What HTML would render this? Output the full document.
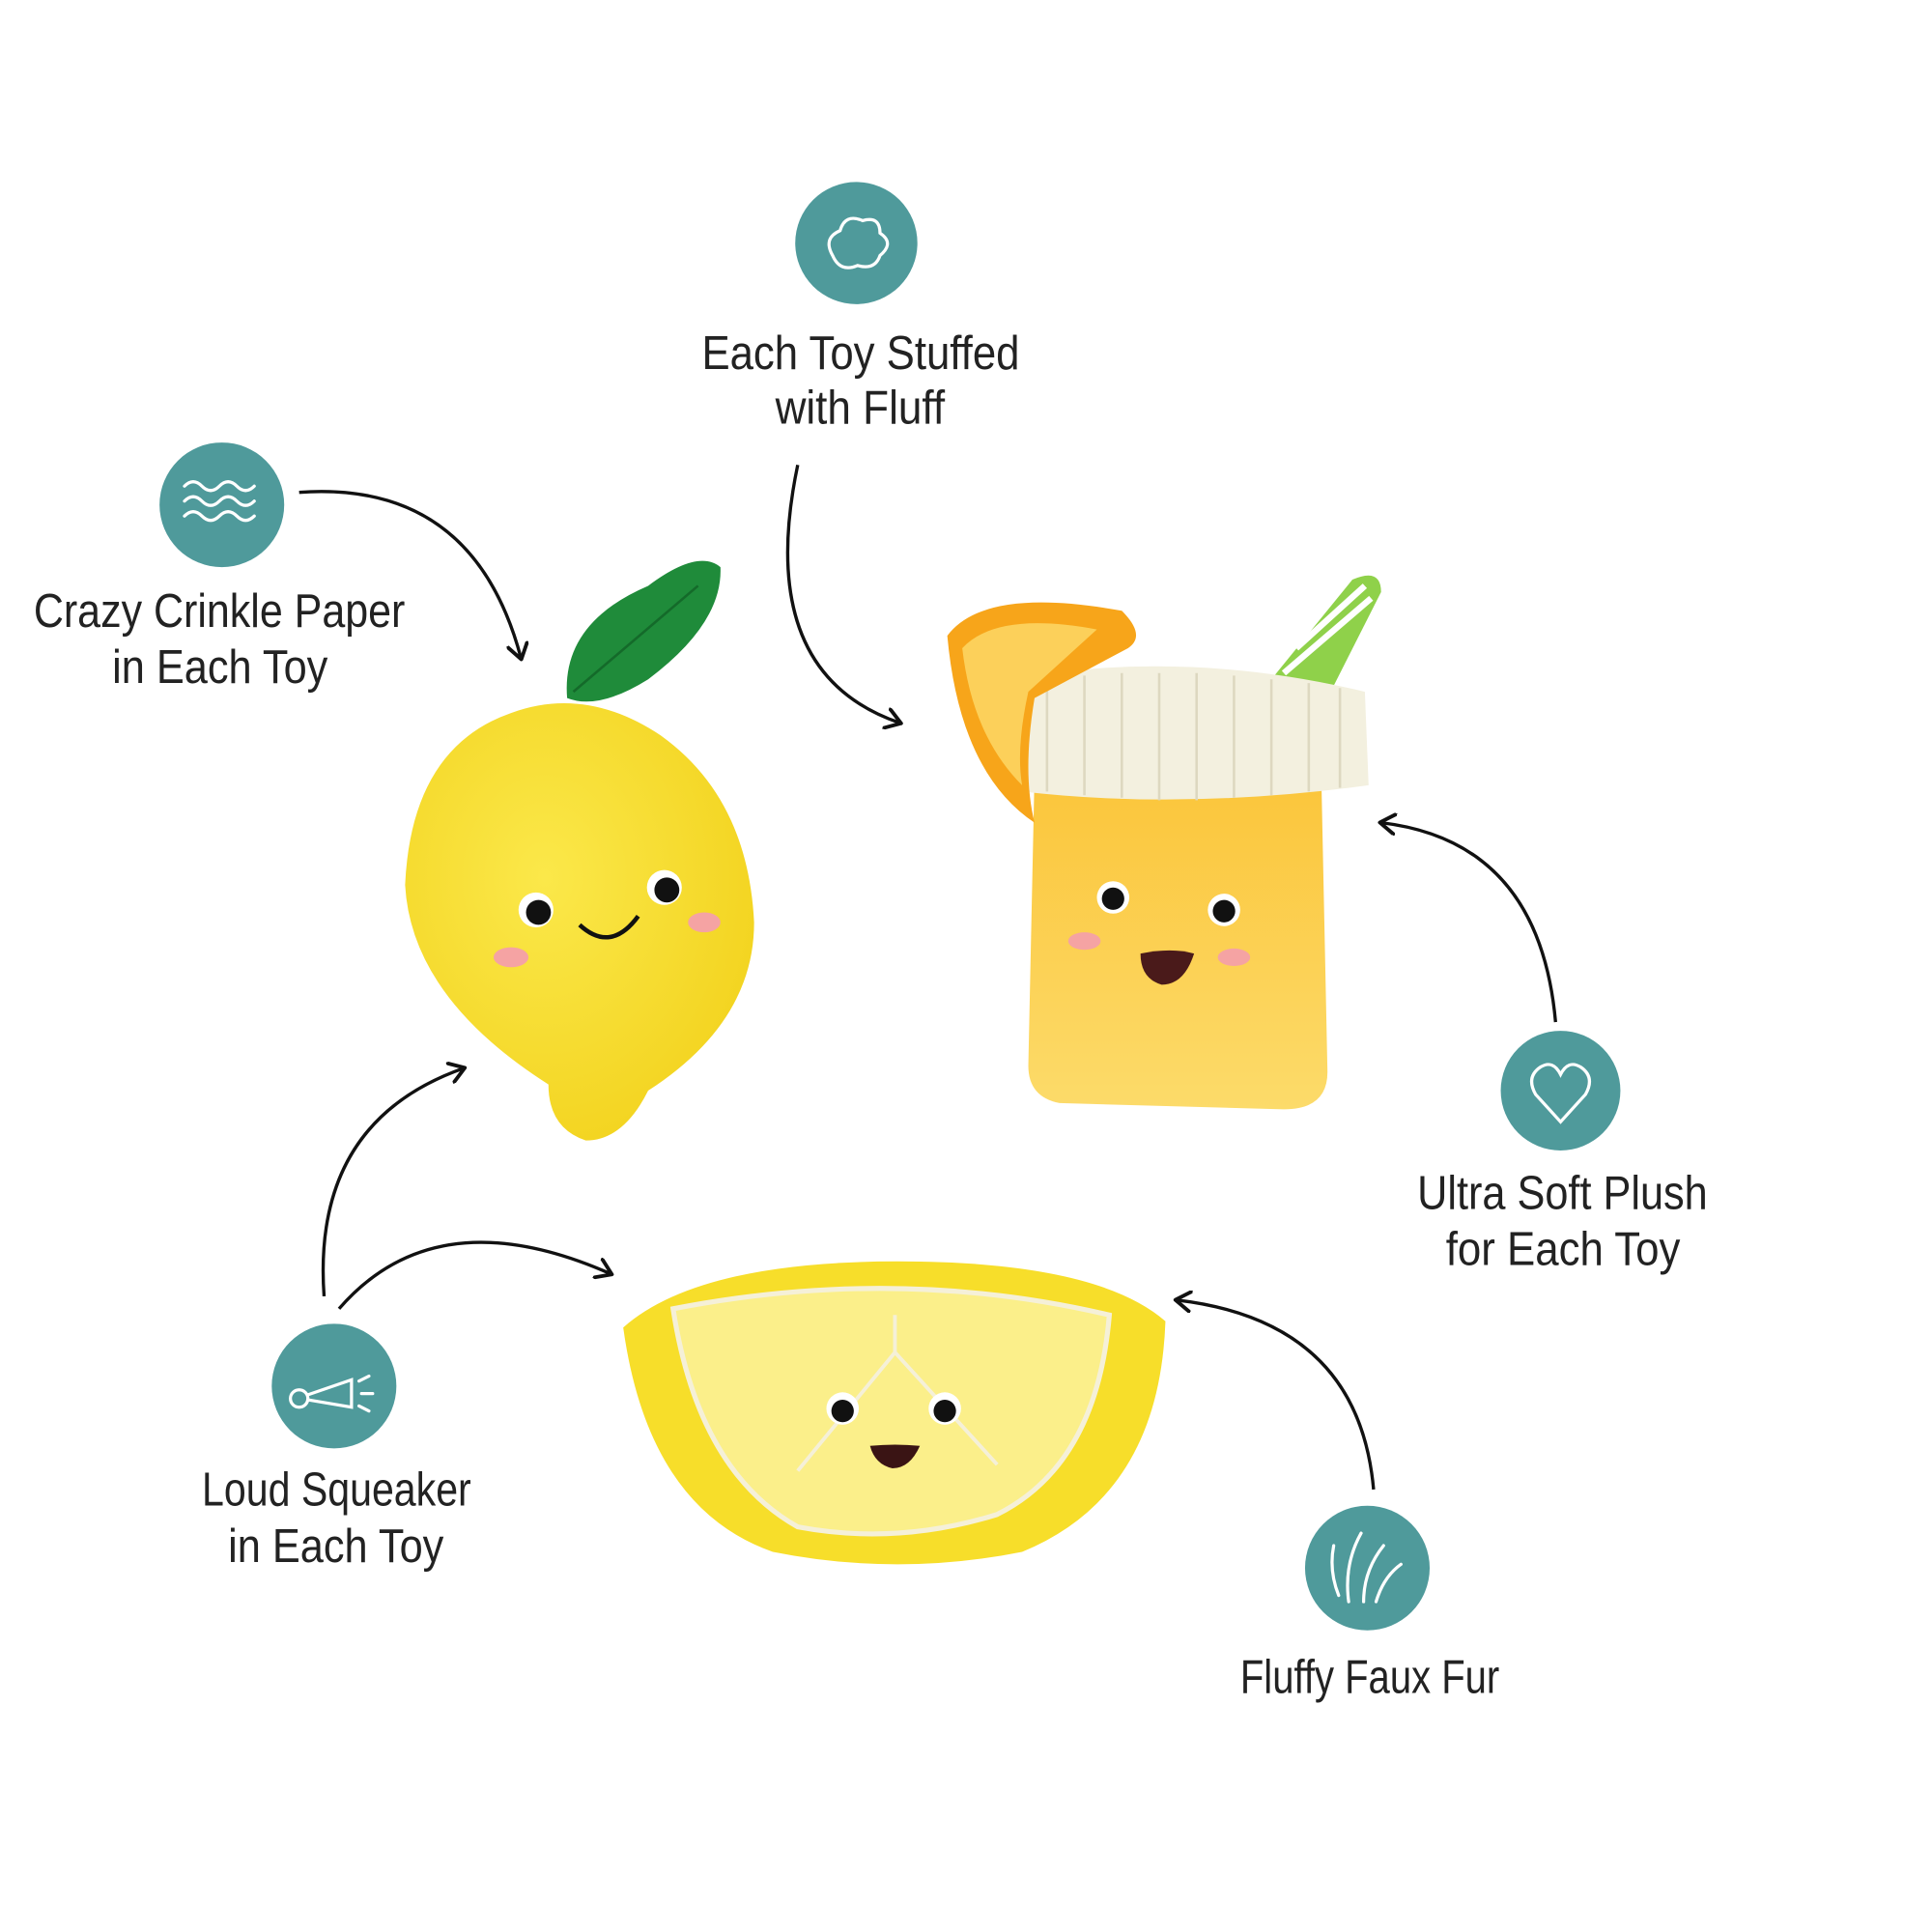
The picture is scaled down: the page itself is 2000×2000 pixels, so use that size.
<!DOCTYPE html>
<html><head><meta charset="utf-8"><style>
html,body{margin:0;padding:0;background:#fff;}
svg{display:block;}
text{font-family:"Liberation Sans Narrow","Liberation Sans",sans-serif;fill:#222;font-size:38px;}
</style></head><body>
<svg width="2000" height="2000" viewBox="0 0 1550 1550" xmlns="http://www.w3.org/2000/svg">
<defs>
<marker id="ah" markerWidth="18" markerHeight="18" refX="12" refY="9" orient="auto" markerUnits="userSpaceOnUse" viewBox="0 0 18 18">
<path d="M1,1 L13,9 L1,17" fill="none" stroke="#111" stroke-width="3" stroke-linejoin="round" stroke-linecap="round"/>
</marker>
<radialGradient id="lem" cx="0.4" cy="0.4" r="0.7"><stop offset="0" stop-color="#fbe84a"/><stop offset="1" stop-color="#f2d21c"/></radialGradient>
<linearGradient id="cup" x1="0" y1="0" x2="0" y2="1"><stop offset="0" stop-color="#fbc53a"/><stop offset="1" stop-color="#fcdb6a"/></linearGradient>
</defs>

<g fill="#4f9a9b">
<circle cx="687" cy="195" r="49"/>
<circle cx="178" cy="405" r="50"/>
<circle cx="1252" cy="875" r="48"/>
<circle cx="268" cy="1112" r="50"/>
<circle cx="1097" cy="1258" r="50"/>
</g>
<g fill="none" stroke="#fff" stroke-width="2.5" stroke-linecap="round">
<path d="M668,205 q-8,-14 6,-20 q4,-14 18,-8 q14,-4 14,10 q12,8 0,18 q-4,12 -18,8 q-14,6 -20,-8z"/>
<path d="M148,390 q7,-7 14,0 t14,0 t14,0 t14,0"/>
<path d="M148,402 q7,-7 14,0 t14,0 t14,0 t14,0"/>
<path d="M148,414 q7,-7 14,0 t14,0 t14,0 t14,0"/>
<path d="M1252,900 l-20,-22 q-8,-14 4,-22 q10,-6 16,6 q6,-12 16,-6 q12,8 4,22z"/>
<circle cx="240" cy="1122" r="7"/><path d="M247,1119 l35,-12 l0,22 l-35,-6"/><path d="M288,1108 l8,-4 M290,1118 l9,0 M288,1128 l8,4"/>
<path d="M1082,1285 q-4,-30 10,-55 M1094,1285 q0,-25 16,-45 M1104,1285 q6,-20 20,-30 M1074,1280 q-8,-20 -4,-40"/>
</g>

<text x="563" y="296" textLength="255" lengthAdjust="spacingAndGlyphs">Each Toy Stuffed</text>
<text x="622" y="340" textLength="136" lengthAdjust="spacingAndGlyphs">with Fluff</text>
<text x="27" y="503" textLength="298" lengthAdjust="spacingAndGlyphs">Crazy Crinkle Paper</text>
<text x="90" y="548" textLength="173" lengthAdjust="spacingAndGlyphs">in Each Toy</text>
<text x="1137" y="970" textLength="233" lengthAdjust="spacingAndGlyphs">Ultra Soft Plush</text>
<text x="1160" y="1015" textLength="188" lengthAdjust="spacingAndGlyphs">for Each Toy</text>
<text x="162" y="1208" textLength="216" lengthAdjust="spacingAndGlyphs">Loud Squeaker</text>
<text x="183" y="1253" textLength="173" lengthAdjust="spacingAndGlyphs">in Each Toy</text>
<text x="995" y="1358" textLength="208" lengthAdjust="spacingAndGlyphs">Fluffy Faux Fur</text>

<g fill="none" stroke="#111" stroke-width="2.6" marker-end="url(#ah)">
<path d="M240,395 Q380,385 418,528"/>
<path d="M640,373 Q605,540 722,580"/>
<path d="M1248,820 Q1235,675 1108,660"/>
<path d="M260,1040 Q250,900 372,857"/>
<path d="M272,1050 Q350,960 490,1022"/>
<path d="M1102,1195 Q1090,1060 944,1043"/>
</g>

<path d="M520,470 Q560,440 578,455 Q580,500 520,545 Q480,570 455,560 Q450,500 520,470z" fill="#1f8b3a"/>
<path d="M460,555 L560,470" stroke="#146a2a" stroke-width="2" fill="none"/>
<path d="M410,572 Q470,550 530,590 Q600,640 605,740 Q605,820 520,875 Q500,915 470,915 Q440,905 440,870 Q330,800 325,710 Q330,600 410,572z" fill="url(#lem)"/>
<circle cx="430" cy="730" r="14" fill="#fff"/><circle cx="432" cy="732" r="10" fill="#111"/>
<circle cx="533" cy="712" r="14" fill="#fff"/><circle cx="535" cy="714" r="10" fill="#111"/>
<path d="M465,742 Q490,765 512,735" stroke="#111" stroke-width="3.5" fill="none"/>
<ellipse cx="410" cy="768" rx="14" ry="8" fill="#f5a3a3"/><ellipse cx="565" cy="740" rx="13" ry="8" fill="#f5a3a3"/>

<path d="M1020,545 L1085,465 Q1108,455 1108,475 L1065,560z" fill="#8fd14a"/>
<path d="M1040,520 L1095,470 M1030,540 L1100,480" stroke="#fff" stroke-width="5"/>
<path d="M830,620 L1060,620 L1065,860 Q1065,890 1030,890 L850,885 Q825,880 825,855z" fill="url(#cup)"/>
<path d="M808,545 Q950,520 1095,555 L1098,630 Q950,650 820,635z" fill="#f3f0df"/>
<g stroke="#ddd8c0" stroke-width="2">
<path d="M840,545 V635 M870,542 V638 M900,540 V640 M930,540 V642 M960,540 V642 M990,542 V640 M1020,545 V638 M1050,548 V635 M1075,552 V632"/>
</g>
<path d="M760,510 Q790,470 900,490 Q920,510 905,520 L830,560 Q820,620 830,660 Q770,620 760,510z" fill="#f7a51a"/>
<path d="M772,520 Q800,490 880,505 L825,555 Q815,600 820,630 Q780,590 772,520z" fill="#fcd05a"/>
<circle cx="893" cy="720" r="13" fill="#fff"/><circle cx="893" cy="721" r="9" fill="#111"/>
<circle cx="982" cy="730" r="13" fill="#fff"/><circle cx="982" cy="731" r="9" fill="#111"/>
<path d="M915,765 Q940,760 958,765 Q950,790 932,790 Q915,785 915,765z" fill="#4a1a1a"/>
<ellipse cx="870" cy="755" rx="13" ry="7" fill="#f5a3a3"/><ellipse cx="990" cy="768" rx="13" ry="7" fill="#f5a3a3"/>

<path d="M500,1065 Q560,1012 720,1012 Q880,1012 935,1060 Q930,1200 820,1245 Q720,1265 620,1245 Q520,1210 500,1065z" fill="#f7de2a"/>
<path d="M540,1050 Q720,1015 890,1055 Q880,1175 800,1215 Q720,1240 640,1225 Q560,1180 540,1050z" fill="#fbef8a" stroke="#f5f0d8" stroke-width="4"/>
<path d="M718,1055 V1085 M640,1180 L718,1085 L800,1175" stroke="#f5f0d8" stroke-width="3" fill="none"/>
<circle cx="676" cy="1130" r="13" fill="#fff"/><circle cx="676" cy="1132" r="9" fill="#111"/>
<circle cx="758" cy="1130" r="13" fill="#fff"/><circle cx="758" cy="1132" r="9" fill="#111"/>
<path d="M698,1160 Q718,1158 738,1160 Q730,1178 716,1178 Q702,1175 698,1160z" fill="#3a1414"/>
</svg>
</body></html>
